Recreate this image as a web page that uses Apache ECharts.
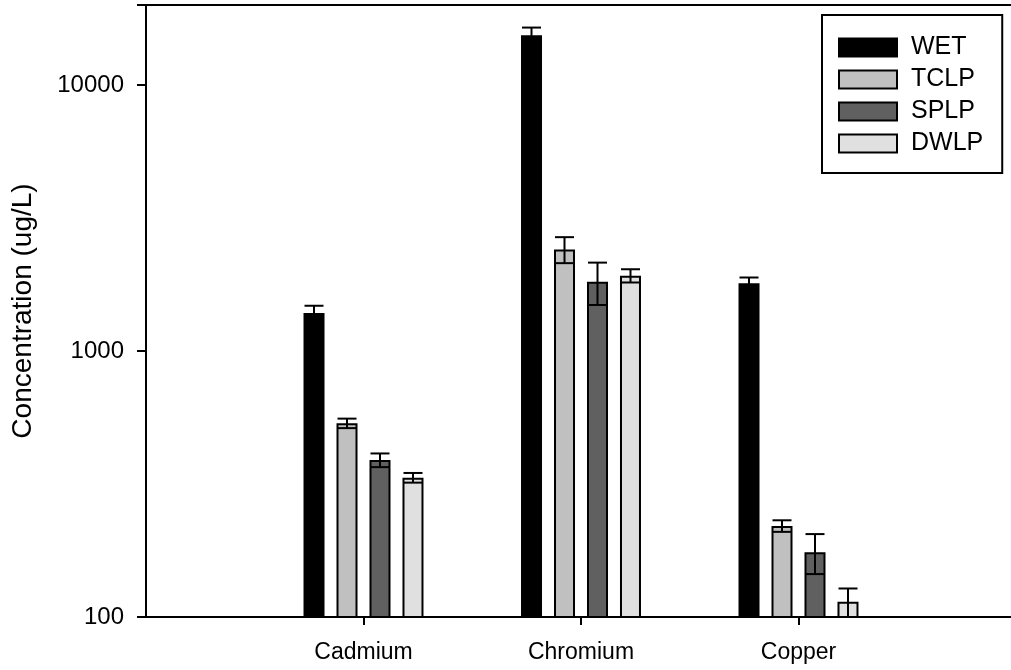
<!DOCTYPE html>
<html>
<head>
<meta charset="utf-8">
<script src="https://cdn.jsdelivr.net/npm/echarts@6/dist/echarts.min.js"></script>
<style>
  html, body { margin: 0; padding: 0; background: #fff; }
  #chart { width: 1011px; height: 670px; }
</style>
</head>
<body>
<div id="chart"></div>
<script>
// metals on the x axis
const categories = ['Cadmium', 'Chromium', 'Copper']
const seriesNames = ['WET', 'TCLP', 'SPLP', 'DWLP']

// concentrations (ug/L), one entry per metal
const wet = [1390, 15400, 1800]
const tclp = [535, 2410, 220]
const splp = [389, 1820, 175]
const dwlp = [334, 1920, 114]

// error bar half heights
const wetErr = [90, 1050, 90]
const tclpErr = [22, 270, 11]
const splpErr = [23, 330, 30]
const dwlpErr = [14, 110, 14]

const yTicks = [100, 1000, 10000]

const values = [wet, tclp, splp, dwlp]
const errors = [wetErr, tclpErr, splpErr, dwlpErr]
const colors = ['#000000', '#c0c0c0', '#606060', '#e0e0e0']

const font = "'Liberation Sans', Arial, sans-serif"
const barWidth = 21
const barGapPx = 12
const yMin = 100

// empty slots either side so the metals sit at 1, 2, 3 along the axis
const xData = [''].concat(categories, [''])

const barSeries = seriesNames.map((name, k) => ({
  name: name,
  type: 'bar',
  barWidth: barWidth,
  barGap: (barGapPx / barWidth * 100).toFixed(1) + '%',
  itemStyle: { color: colors[k], borderColor: '#000', borderWidth: 2 },
  data: ['-'].concat(values[k], ['-']),
  z: 2
}))

const errSeries = seriesNames.map((name, k) => ({
  name: name + ' err',
  type: 'custom',
  z: 5,
  clip: false,
  data: values[k].map((v, i) => [i + 1, v, errors[k][i]]),
  renderItem(params, api) {
    const xi = api.value(0)
    const v = api.value(1)
    const e = api.value(2)
    const offset = (k - 1.5) * (barWidth + barGapPx)
    const x = api.coord([xi, v])[0] + offset
    const yHi = api.coord([xi, v + e])[1]
    const yLo = api.coord([xi, Math.max(v - e, yMin)])[1]
    const half = 9.5
    const style = { stroke: '#000', lineWidth: 2 }
    return {
      type: 'group',
      children: [
        { type: 'line', shape: { x1: x, y1: yHi, x2: x, y2: yLo }, style: style },
        { type: 'line', shape: { x1: x - half, y1: yHi, x2: x + half, y2: yHi }, style: style },
        { type: 'line', shape: { x1: x - half, y1: yLo, x2: x + half, y2: yLo }, style: style }
      ]
    }
  }
}))

const chart = echarts.init(document.getElementById('chart'))
chart.setOption({
  animation: false,
  textStyle: { fontFamily: font, color: '#000' },
  grid: {
    left: 146,
    top: 5,
    width: 870,
    height: 612,
    outerBoundsMode: 'none',
    containLabel: false,
    show: true,
    borderColor: '#000',
    borderWidth: 2,
    backgroundColor: 'transparent'
  },
  legend: {
    data: seriesNames,
    orient: 'vertical',
    left: 822,
    top: 15,
    icon: 'rect',
    itemWidth: 58,
    itemHeight: 18,
    itemGap: 7,
    padding: [20, 19, 17, 16],
    borderColor: '#000',
    borderWidth: 2,
    textStyle: { fontSize: 25, color: '#000', fontFamily: font, padding: [0, 0, 0, 9] }
  },
  xAxis: {
    type: 'category',
    data: xData,
    boundaryGap: false,
    axisLine: { lineStyle: { color: '#000', width: 2 } },
    axisTick: {
      length: 8,
      interval: (i) => i >= 1 && i <= categories.length,
      lineStyle: { color: '#000', width: 2 }
    },
    axisLabel: {
      interval: 0,
      fontSize: 23,
      color: '#000',
      fontFamily: font,
      margin: 24
    },
    splitLine: { show: false }
  },
  yAxis: {
    type: 'log',
    logBase: 10,
    min: yMin,
    max: 20000,
    name: 'Concentration (ug/L)',
    nameLocation: 'middle',
    nameGap: 109,
    nameTextStyle: { fontSize: 28, color: '#000', fontFamily: font },
    axisLine: { show: true, lineStyle: { color: '#000', width: 2 } },
    axisTick: { show: true, length: 9, lineStyle: { color: '#000', width: 2 } },
    minorTick: { show: false },
    axisLabel: {
      fontSize: 24,
      color: '#000',
      fontFamily: font,
      margin: 22,
      formatter: (v) => (yTicks.includes(Math.round(v)) ? String(Math.round(v)) : '')
    },
    splitLine: { show: false }
  },
  series: barSeries.concat(errSeries)
})
</script>
</body>
</html>
